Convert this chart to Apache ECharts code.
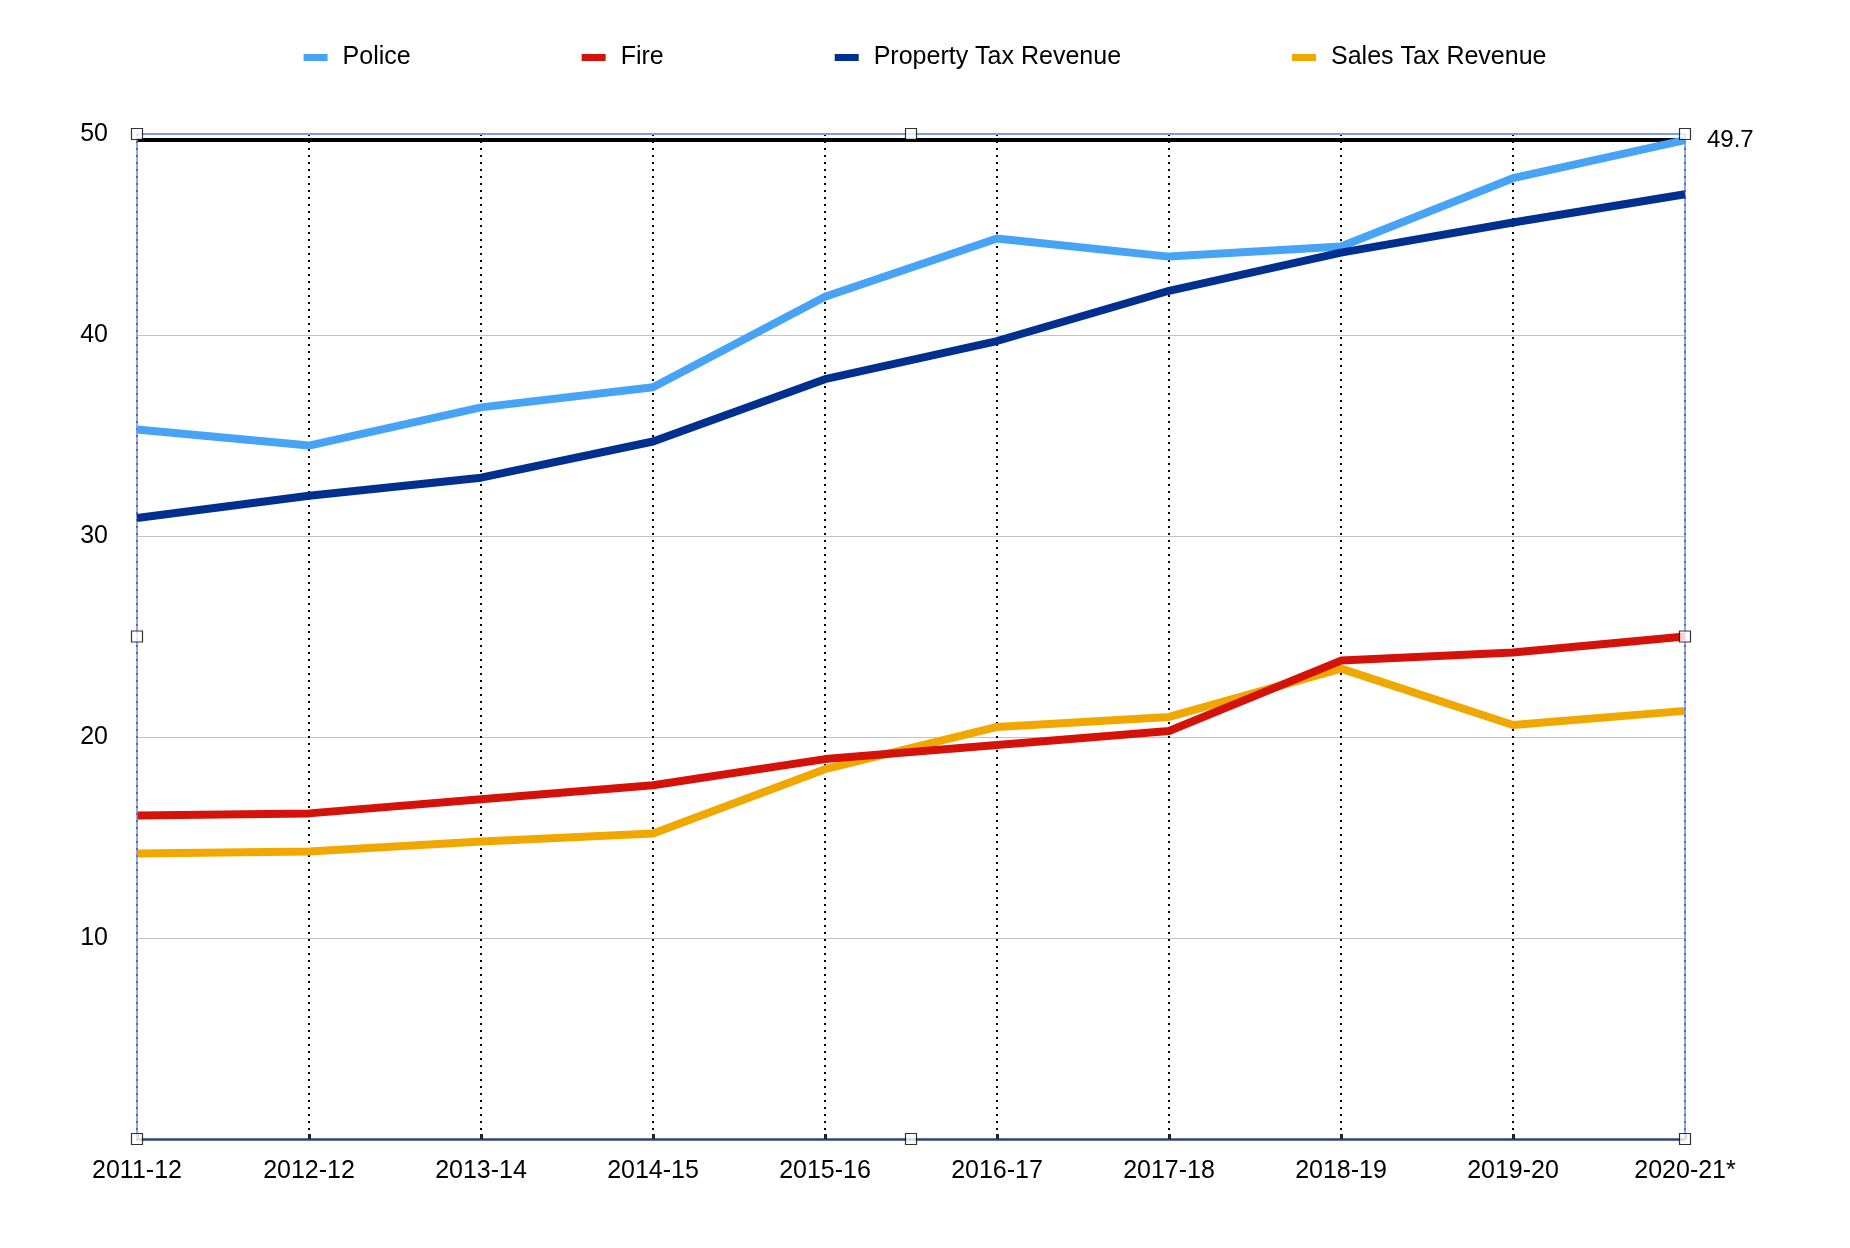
<!DOCTYPE html>
<html><head><meta charset="utf-8">
<script src="https://cdn.jsdelivr.net/npm/echarts@6/dist/echarts.min.js"></script>
<style>html,body{margin:0;padding:0;background:#fff}#c{width:1850px;height:1248px}</style>
</head><body><div id="c"></div>
<script>
const categories = ['2011-12','2012-12','2013-14','2014-15','2015-16','2016-17','2017-18','2018-19','2019-20','2020-21*'];
const police   = [35.3, 34.5, 36.4, 37.4, 41.9, 44.8, 43.9, 44.4, 47.8, 49.7];
const fire     = [16.1, 16.2, 16.9, 17.6, 18.9, 19.6, 20.3, 23.8, 24.2, 25.0];
const property = [30.9, 32.0, 32.9, 34.7, 37.8, 39.7, 42.2, 44.1, 45.6, 47.0];
const sales    = [14.2, 14.3, 14.8, 15.2, 18.4, 20.5, 21.0, 23.4, 20.6, 21.3];
const yTicks = [10, 20, 30, 40, 50];
const markValue = 49.7;
const handles = [[0,50],[4.5,50],[9,50],[0,25],[9,25],[0,0],[4.5,0],[9,0]];

const font = 'Liberation Sans, Arial, Helvetica, sans-serif';
const chart = echarts.init(document.getElementById('c'));
function line(name, data, color, z) {
  return { name, type: 'line', data, symbol: 'none', z,
    lineStyle: { color, width: 8, join: 'round' }, itemStyle: { color } };
}
const s = [
  line('Police', police, '#47a3f5', 5),
  line('Fire', fire, '#d4120a', 4),
  line('Property Tax Revenue', property, '#00308f', 5),
  line('Sales Tax Revenue', sales, '#f0a800', 3)
];
s[0].markLine = {
  silent: true, symbol: 'none', animation: false,
  data: [
    { yAxis: markValue, lineStyle: { color: '#000', width: 4, type: 'solid' },
      label: { show: true, position: 'end', formatter: String(markValue), color: '#000', fontSize: 24, fontFamily: font, distance: 22 } },
    { yAxis: 50, lineStyle: { color: '#7a9fe8', width: 2, type: 'solid' }, label: { show: false } },
    { xAxis: 0, lineStyle: { color: '#6f8fe0', width: 1.5, type: 'solid' }, label: { show: false } },
    { xAxis: 9, lineStyle: { color: '#6f8fe0', width: 1.5, type: 'solid' }, label: { show: false } }
  ]
};
s.push({ type: 'scatter', xAxisIndex: 1, data: handles, symbol: 'rect', symbolSize: 11, z: 10, silent: true,
  itemStyle: { color: '#fff', borderColor: '#000', borderWidth: 1.2 } });

chart.setOption({
  animation: false,
  textStyle: { fontFamily: font },
  legend: {
    data: ['Police','Fire','Property Tax Revenue','Sales Tax Revenue'],
    top: 40, left: 'center', itemGap: 171, itemWidth: 24, itemHeight: 7, icon: 'rect',
    textStyle: { fontSize: 25, color: '#000', fontFamily: font, padding: [0, 0, 0, 10] }
  },
  grid: { left: 137, right: 165, top: 134, bottom: 109 },
  xAxis: [{
    type: 'category', data: categories, boundaryGap: false,
    axisLine: { lineStyle: { color: '#2f4577', width: 2.5 } },
    axisTick: { show: true, inside: true, length: 5, lineStyle: { color: '#222', width: 3 } },
    axisLabel: { color: '#000', fontSize: 25, margin: 20, fontFamily: font },
    splitLine: { show: true, lineStyle: { color: '#000', width: 2, type: [2, 5] } }
  }, {
    type: 'value', min: 0, max: 9, show: false
  }],
  yAxis: {
    type: 'value', min: 0, max: 50, interval: 10,
    axisLine: { show: false }, axisTick: { show: false },
    axisLabel: { color: '#000', fontSize: 25, margin: 29, fontFamily: font,
      formatter: v => yTicks.includes(v) ? String(v) : '' },
    splitLine: { lineStyle: { color: '#c4c4c4', width: 1 } }
  },
  series: s
});
</script></body></html>
